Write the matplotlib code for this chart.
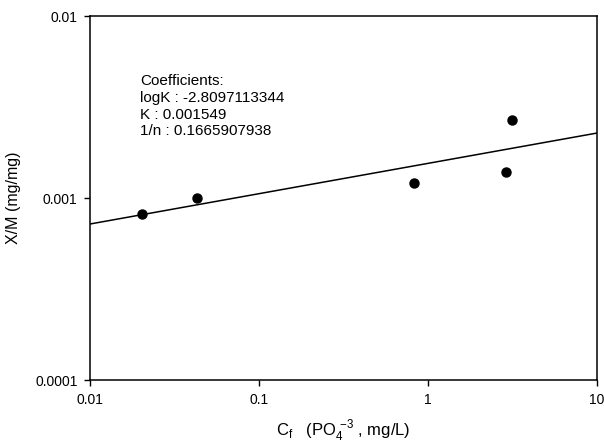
import matplotlib
matplotlib.use("Agg")
import matplotlib.pyplot as plt
import numpy as np

plt.rcParams['font.family'] = ['Liberation Sans', 'DejaVu Sans']
plt.rcParams['mathtext.fontset'] = 'custom'
plt.rcParams['mathtext.rm'] = 'Liberation Sans'

# data
cf = [0.0203, 0.043, 0.826, 2.90, 3.14]
xm = [0.000817, 0.00100, 0.00121, 0.00139, 0.00268]

# fitted Freundlich coefficients (shown in chart)
logK = -2.8097113344
K = 0.001549
inv_n = 0.1665907938

x_ticks = [0.01, 0.1, 1, 10]
x_tick_labels = ['0.01', '0.1', '1', '10']
y_ticks = [0.0001, 0.001, 0.01]
y_tick_labels = ['0.0001', '0.001', '0.01']

fig = plt.figure(figsize=(6.04, 4.45), dpi=100)
ax = fig.add_axes([90/604, 1-380/445, (597-90)/604, (380-16)/445])

xf = np.array([0.01, 10])
yf = 10**(logK + inv_n*np.log10(xf))
ax.plot(xf, yf, color='black', lw=1.1)
ax.plot(cf, xm, 'o', color='black', ms=6.5)

ax.set_xscale('log')
ax.set_yscale('log')
ax.set_xlim(0.01, 10)
ax.set_ylim(0.0001, 0.01)
ax.set_xticks(x_ticks)
ax.set_xticklabels(x_tick_labels)
ax.set_yticks(y_ticks)
ax.set_yticklabels(y_tick_labels)
ax.minorticks_off()
ax.tick_params(direction='out', length=4, width=1, labelsize=10, pad=5)
for s in ax.spines.values():
    s.set_linewidth(1.1)

ax.set_xlabel(r'C$_\mathregular{f}$   (PO$_\mathregular{4}^{\ \mathregular{-3}}$ , mg/L)', fontsize=12, labelpad=8)
ax.set_ylabel('X/M (mg/mg)', fontsize=11.5, labelpad=10)

txt = ("Coefficients:\nlogK : %.10f\nK : %.6f\n1/n : %.10f" % (logK, K, inv_n))
ax.text(0.0198, 0.0048, txt, fontsize=11, va='top', ha='left', linespacing=1.25)

fig.savefig('out.png', dpi=100)
